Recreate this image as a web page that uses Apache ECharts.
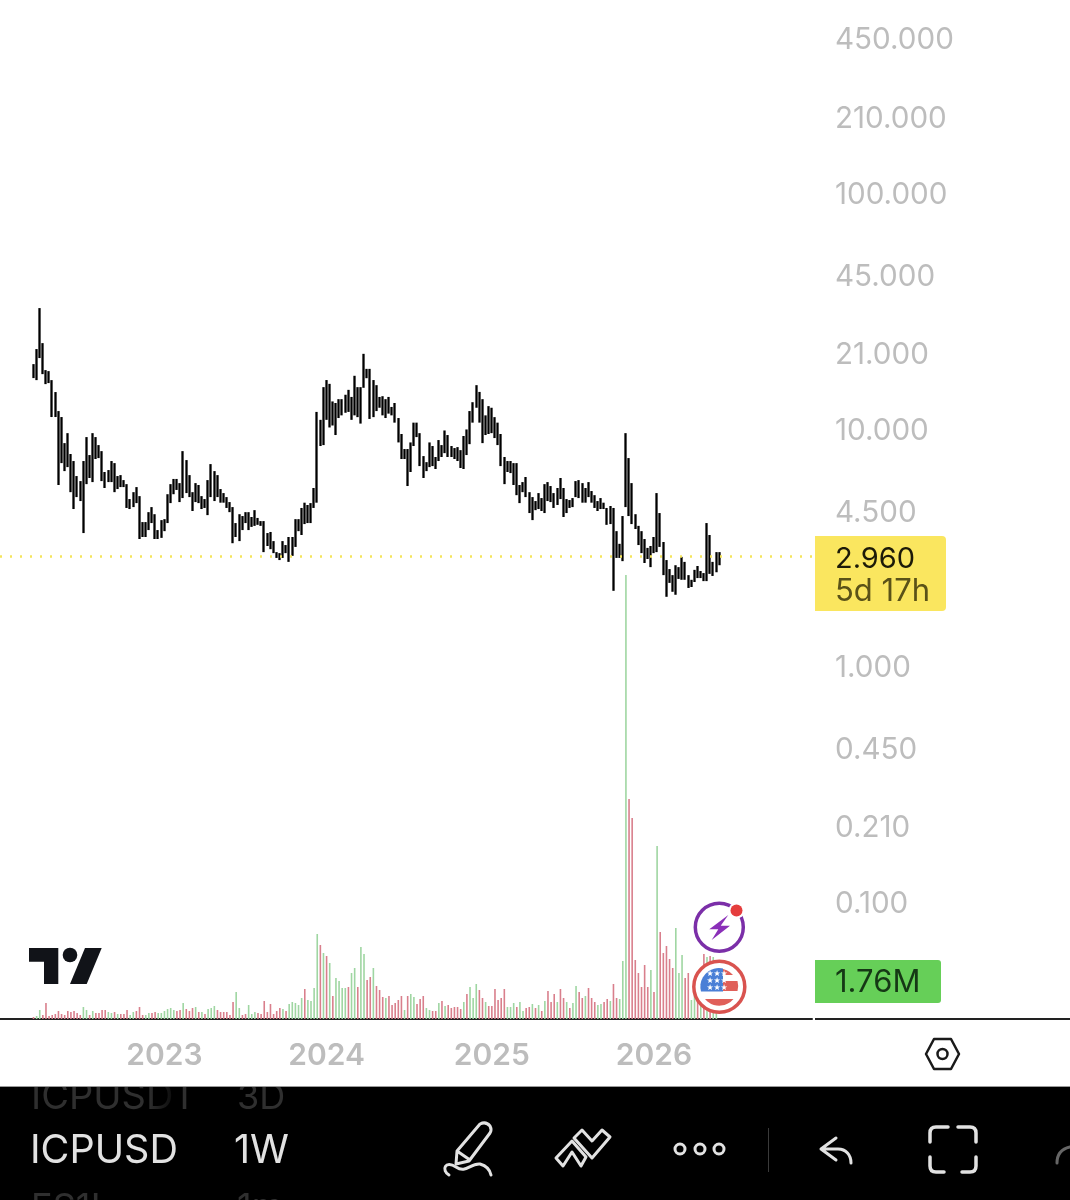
<!DOCTYPE html>
<html>
<head>
<meta charset="utf-8">
<style>html,body{margin:0;padding:0;background:#fff}#c{width:1070px;height:1200px}</style>
<script src="https://cdn.jsdelivr.net/npm/echarts@6/dist/echarts.min.js"></script>
</head>
<body>
<div id="c"></div>
<script>
const yearTickWeeks = [42, 94, 147, 199];
const yearLabels = ['2023', '2024', '2025', '2026'];
const priceTicks = [450, 210, 100, 45, 21, 10, 4.5, 1, 0.45, 0.21, 0.1];
const lastPrice = 2.96;
const lastVolumeLabel = '1.76M';

const highs = [19.27,22.31,33.25,23.64,18.18,18.0,16.49,14.68,12.2,11.51,8.93,9.84,8.03,7.50,6.48,6.17,7.50,9.47,7.95,9.84,9.47,8.76,8.26,6.74,6.87,7.50,7.35,6.48,6.54,6.23,5.99,5.18,5.54,5.82,5.33,4.14,4.14,4.56,4.79,4.47,3.83,4.22,4.26,5.43,5.99,6.30,6.30,6.05,8.26,7.57,6.54,5.54,6.05,5.94,5.33,5.18,6.23,7.28,6.80,6.54,5.71,5.49,5.28,5.03,4.79,4.10,4.47,4.39,4.56,4.56,4.35,4.65,4.31,4.18,4.18,3.72,3.76,3.44,3.09,3.06,3.44,3.31,3.58,3.58,4.26,4.26,4.75,5.00,4.89,4.98,5.77,12.1,11.2,15.4,16.5,15.9,13.4,13.2,13.7,13.7,14.3,15.0,14.0,17.2,15.4,15.4,21.3,18.4,18.4,16.5,15.7,14.0,14.1,13.7,14.0,12.7,13.2,11.4,9.76,8.43,8.43,8.99,10.9,10.9,9.84,7.87,7.42,8.99,8.68,7.80,9.20,8.76,10.1,9.66,8.68,8.51,8.59,8.34,9.57,10.2,12.2,13.3,15.7,14.7,13.7,11.7,12.8,12.6,11.5,10.9,9.76,7.80,7.50,7.50,7.35,7.35,5.94,6.11,6.42,5.54,5.28,5.08,5.49,5.23,5.99,6.11,5.88,5.49,5.77,6.36,5.77,5.18,5.13,5.23,6.17,6.23,6.05,5.77,6.11,5.60,5.38,5.08,5.23,5.00,4.75,4.84,4.75,3.79,3.35,4.39,9.84,7.72,6.05,4.47,3.99,3.79,3.51,3.22,3.28,3.58,5.49,4.52,3.41,2.86,2.62,2.47,2.72,2.67,2.95,2.81,2.47,2.36,2.60,2.70,2.57,2.52,4.10,3.65,2.81,3.09,3.09];

const lows = [16.82,16.49,20.44,17.48,15.86,16.02,11.51,11.51,5.94,7.35,6.80,7.07,5.54,4.70,5.28,5.08,3.72,5.99,6.36,6.11,7.65,7.72,6.17,5.77,6.11,6.11,5.54,5.71,5.82,5.82,4.75,4.70,4.79,4.98,3.51,3.58,3.58,3.83,4.10,3.51,3.51,3.55,3.79,4.10,4.98,5.43,5.66,5.03,5.23,5.49,5.28,4.61,5.03,4.98,4.70,4.75,4.43,5.28,5.08,5.28,5.00,5.00,4.75,4.56,3.37,3.58,3.44,3.83,4.10,3.83,3.95,3.99,4.03,3.99,3.09,3.28,3.18,3.06,2.92,2.86,2.92,3.06,2.81,2.98,3.25,3.79,3.65,4.06,4.10,4.10,4.75,5.00,8.68,8.76,11.2,10.4,10.6,9.66,11.4,11.7,12.0,12.1,11.2,11.7,11.5,10.8,15.3,16.8,11.3,11.5,12.2,12.6,11.7,11.4,11.9,11.7,10.9,8.99,7.65,7.65,5.88,6.74,8.68,9.47,7.14,6.36,6.80,7.07,7.14,6.94,7.50,7.80,8.10,7.80,7.80,7.65,7.50,7.01,6.94,7.95,8.84,10.9,12.6,10.9,8.93,9.66,9.76,9.84,9.38,8.76,7.14,5.99,6.74,6.67,5.94,5.38,4.98,5.54,5.28,4.52,4.22,4.65,4.70,4.61,4.52,5.08,5.03,4.75,4.89,5.18,4.35,4.52,4.75,4.79,5.28,5.23,5.00,5.00,5.28,5.00,4.75,4.61,4.70,4.70,4.03,4.06,2.12,2.92,2.92,2.83,4.79,4.39,4.06,3.87,3.31,3.06,2.78,2.89,2.67,3.06,3.09,3.25,2.47,2.00,2.29,2.10,2.04,2.38,2.36,2.36,2.18,2.20,2.31,2.40,2.40,2.33,2.33,2.50,2.45,2.54,2.72];

const volumesM = [0.10,0.15,0.45,0.20,0.80,0.15,0.20,0.25,0.40,0.25,0.20,0.40,0.35,0.40,0.30,0.20,0.60,0.45,0.20,0.40,0.30,0.30,0.45,0.45,0.35,0.30,0.35,0.25,0.25,0.25,0.45,0.20,0.35,0.40,0.60,0.20,0.20,0.30,0.30,0.35,0.30,0.30,0.40,0.50,0.55,0.45,0.40,0.45,0.80,0.50,0.40,0.55,0.60,0.35,0.35,0.25,0.50,0.55,0.65,0.45,0.35,0.35,0.35,0.20,0.85,1.35,0.55,0.20,0.25,0.70,0.25,0.35,0.30,0.25,0.90,0.35,0.75,0.25,0.40,0.55,0.50,0.40,0.75,0.85,0.80,0.70,1.05,1.50,0.95,0.90,1.55,4.25,3.70,3.30,3.15,2.80,1.15,2.05,1.90,1.55,1.55,1.60,2.30,2.55,1.60,3.60,3.25,1.95,2.10,2.55,1.65,1.45,1.10,1.05,1.15,0.70,0.80,0.95,1.15,0.45,1.15,1.25,1.10,0.75,1.00,1.15,0.55,0.45,0.40,0.40,0.80,0.90,0.65,0.70,0.55,0.60,0.60,0.50,0.85,1.25,1.60,1.05,1.75,1.45,1.05,0.85,0.65,0.65,1.50,0.95,1.05,1.50,0.60,0.60,0.80,0.60,0.85,0.40,0.55,0.60,0.75,0.55,0.70,0.40,0.90,1.40,0.85,1.25,0.85,1.50,1.05,0.85,0.55,0.80,1.65,1.35,1.05,1.15,1.55,1.05,0.85,0.70,0.75,0.85,1.00,0.90,1.75,1.05,1.00,2.90,22.20,11.00,10.05,2.95,2.30,1.60,2.70,1.60,2.45,1.35,8.65,4.35,3.30,3.65,3.00,2.55,4.55,2.30,3.20,2.05,2.30,0.95,1.25,0.85,0.70,3.25,3.10,3.15,3.10,1.76];

const directions = ['rggrrrrrrrrrrrrrggrg','rrrrggrgrrrggrrrggrr','ggggggrrgrrrgrgrgggr','rrrrrggrrgggrrrrrrrr','grgggggrggggrgrgrggg','grggrggrrgrrrgrrrrrg','rggrrrggrrgrgrrrrrgr','gggrrgrrrrrrgggrggrr','grgrgrrrgrrgrggrrgrr','rggrrgrrgggrrrrrrrgr','grrrrrgggrrggrgrgrggg'].join('');

const xMin = -10.744;
const xMax = xMin + 260.42;
const isUp = i => (directions[i] || 'r') === 'g';

const priceData = highs.map((h, i) => {
  const l = lows[i];
  return [i, isUp(i) ? l : h, isUp(i) ? h : l, l, h];
});
const volData = volumesM.map((v, i) => ({
  value: [i, v],
  itemStyle: { color: isUp(i) ? '#9fd6a2' : '#d97f8c' }
}));

const INK = '#e2e2e2';
let pathCount = 0;
const pathType = d => {
  const name = 'svgPath' + (pathCount++);
  echarts.graphic.registerShape(name, echarts.graphic.extendPath(d, {}));
  return name;
};
const stroke = (d, w, col, z) => ({ type: pathType(d), z: z || 50, style: { fill: 'none', stroke: col || INK, lineWidth: w || 3, lineCap: 'round', lineJoin: 'round' } });
const fillPath = (d, col, z) => ({ type: pathType(d), z: z || 50, style: { fill: col } });
const txt = (s, x, y, font, col, z, align) => ({ type: 'text', z: z || 60, x: x, y: y, style: { text: s, font: font, fill: col, textAlign: align || 'left', textVerticalAlign: 'middle' } });
const circ = (cx, cy, r, fill, st, w, z) => ({ type: 'circle', z: z || 60, shape: { cx: cx, cy: cy, r: r }, style: { fill: fill, stroke: st || null, lineWidth: w || 0 } });

const F = '"Inter","Liberation Sans",sans-serif';
const starXs = [710, 717, 724];
const graphics = [
  { type: 'rect', z: 40, shape: { x: 0, y: 1087, width: 1070, height: 113 }, style: { fill: '#000' } },
  txt('ICPUSDT', 31, 1098, '38px ' + F, '#2f2f2f', 41),
  txt('3D', 237, 1098, '36px ' + F, '#2f2f2f', 41),
  { type: 'rect', z: 42, shape: { x: 148, y: 1087, width: 34, height: 28 }, style: { fill: new echarts.graphic.LinearGradient(0, 0, 1, 0, [{ offset: 0, color: 'rgba(0,0,0,0)' }, { offset: 1, color: '#000' }]) } },
  { type: 'rect', z: 43, shape: { x: 0, y: 1076, width: 1070, height: 10 }, style: { fill: '#fff' } },
  { type: 'rect', z: 43, shape: { x: 0, y: 1086, width: 1070, height: 1 }, style: { fill: '#9a9a9a' } },
  txt('ES1!', 31, 1208, '36px ' + F, '#2f2f2f', 41),
  txt('1m', 237, 1208, '36px ' + F, '#2f2f2f', 41),
  txt('ICPUSD', 30, 1151, '39.5px ' + F, INK),
  txt('1W', 234, 1151, '39.5px ' + F, INK),
  stroke('M456 1164 L457 1151 L480 1124 Q486 1121 490 1126 Q492 1130 490 1133 L469 1161 Z M457 1151 L470 1160', 3),
  stroke('M449 1175 C441 1170 445 1160 456 1167 C466 1174 470 1163 480 1164 C487 1166 490 1170 491 1175', 3),
  stroke('M556 1158 L572 1141 L586 1157 L581 1166 L572 1152 L563 1166 Z', 3),
  stroke('M574 1138 L582 1130 L592 1141 L602 1130 L610 1137 L592 1158 Z', 3),
  circ(680, 1149, 5, 'none', INK, 3), circ(700, 1149, 5, 'none', INK, 3), circ(719, 1149, 5, 'none', INK, 3),
  { type: 'rect', z: 50, shape: { x: 768, y: 1128, width: 1, height: 44 }, style: { fill: '#3a3a3a' } },
  stroke('M836 1138 L821 1149 L836 1160 M821 1149 L838 1149 C846 1149 851 1155 851 1163', 3),
  stroke('M930 1142 V1133 Q930 1127 936 1127 H948 M958 1127 H970 Q976 1127 976 1133 V1142 M930 1157 V1166 Q930 1172 936 1172 H944 M962 1172 H970 Q976 1172 976 1166 V1157', 3.5),
  stroke('M1057 1163 Q1057 1150 1070 1147', 3, '#666'),
  stroke('M926 1054 L934 1039 H951 L959 1054 L951 1069 H934 Z', 2.5, '#1a1a1a'),
  circ(942.5, 1054, 5, 'none', '#1a1a1a', 2.5),
  { type: 'rect', z: 30, shape: { x: 815, y: 1018, width: 255, height: 2 }, style: { fill: '#222' } },
  fillPath('M29 948 H58.3 V984 H44 V961.7 H29 Z', '#111318', 30),
  circ(70, 955, 7.3, '#111318', null, 0, 30),
  fillPath('M85 948 H101.7 L86.7 984 H70 Z', '#111318', 30),
  { type: 'rect', z: 30, shape: { x: 815, y: 536, width: 131, height: 75, r: [0, 4, 4, 0] }, style: { fill: '#fae65f' } },
  txt(lastPrice.toFixed(3), 835, 559, '29px ' + F, '#1c1a08', 31),
  txt('5d 17h', 835, 592, '31px ' + F, '#5a5218', 31),
  { type: 'rect', z: 30, shape: { x: 815, y: 960, width: 126, height: 43, r: [0, 3, 3, 0] }, style: { fill: '#66cf58' } },
  txt(lastVolumeLabel, 835, 983, '31px ' + F, '#153815', 31),
  circ(719.3, 927.3, 24, '#fff', '#7b2fa8', 3.5, 60),
  fillPath('M728.3 915 L709.3 929.3 H718.3 L711.7 940 L730 925.7 H720.7 Z', '#8a2fb8', 61),
  circ(736.5, 910.5, 8, '#fff', null, 0, 61),
  circ(736.5, 910.5, 6, '#e53d3d', null, 0, 62),
  circ(719.3, 986.7, 25.5, '#fff', '#d9534f', 3.5, 60),
  fillPath('M719 968.5 A18.5 18.5 0 0 1 733 975 H719 Z', '#e0605a', 61),
  fillPath('M723 981 H737.5 A18.5 18.5 0 0 1 737.5 991 H723 Z', '#e0605a', 61),
  fillPath('M705 999 H733.5 A18.5 18.5 0 0 1 705 999 Z', '#e0605a', 61),
  fillPath('M701 991.5 A18.5 18.5 0 0 1 723 968.6 V991.5 Z', '#4a7fd6', 62)
];
[974, 981, 988].forEach(function (y) {
  starXs.forEach(function (x) { graphics.push(txt('★', x, y, '8px "DejaVu Sans"', '#fff', 63, 'center')); });
});

const chart = echarts.init(document.getElementById('c'), null, { renderer: 'canvas', width: 1070, height: 1200 });
chart.setOption({
  animation: false,
  backgroundColor: '#ffffff',
  grid: [
    { left: 0, top: 0, width: 812, height: 1019 },
    { left: 0, top: 0, width: 812, height: 1019 }
  ],
  xAxis: [
    { type: 'value', gridIndex: 0, min: xMin, max: xMax,
      axisLine: { show: true, onZero: false, lineStyle: { color: '#222', width: 2 } },
      axisTick: { show: false }, splitLine: { show: false },
      axisLabel: { show: true, customValues: yearTickWeeks, margin: 22, hideOverlap: false,
        formatter: function (v) { return yearLabels[yearTickWeeks.indexOf(v)] || ''; },
        fontFamily: 'Inter', fontSize: 30, fontWeight: 600, color: '#bdbdbd' } },
    { type: 'value', gridIndex: 1, min: xMin, max: xMax, show: false }
  ],
  yAxis: [
    { type: 'log', logBase: 10, gridIndex: 0, position: 'right', min: 0.0328, max: 667.5,
      axisLine: { show: false }, axisTick: { show: false }, splitLine: { show: false },
      axisLabel: { show: true, customValues: priceTicks, margin: 23,
        formatter: function (v) { return Number(v).toFixed(3); },
        fontFamily: 'Inter', fontSize: 29.6, color: '#bdbdbd', padding: [5, 0, 0, 0] } },
    { type: 'value', gridIndex: 1, min: 0, max: 50.95, show: false }
  ],
  series: [
    { name: 'Volume', type: 'bar', xAxisIndex: 1, yAxisIndex: 1, z: 2, barWidth: 1.6, data: volData, silent: true },
    { name: 'ICPUSD', type: 'candlestick', xAxisIndex: 0, yAxisIndex: 0, z: 3, barWidth: 0.5, silent: true,
      itemStyle: { color: '#000', color0: '#000', borderColor: '#000', borderColor0: '#000', borderWidth: 2.3 },
      data: priceData,
      markLine: { silent: true, symbol: 'none', label: { show: false }, animation: false,
        lineStyle: { color: '#f5e55c', type: [2, 8], width: 2.5 }, data: [{ yAxis: lastPrice }] } }
  ],
  graphic: { elements: graphics }
});
</script>
</body>
</html>
